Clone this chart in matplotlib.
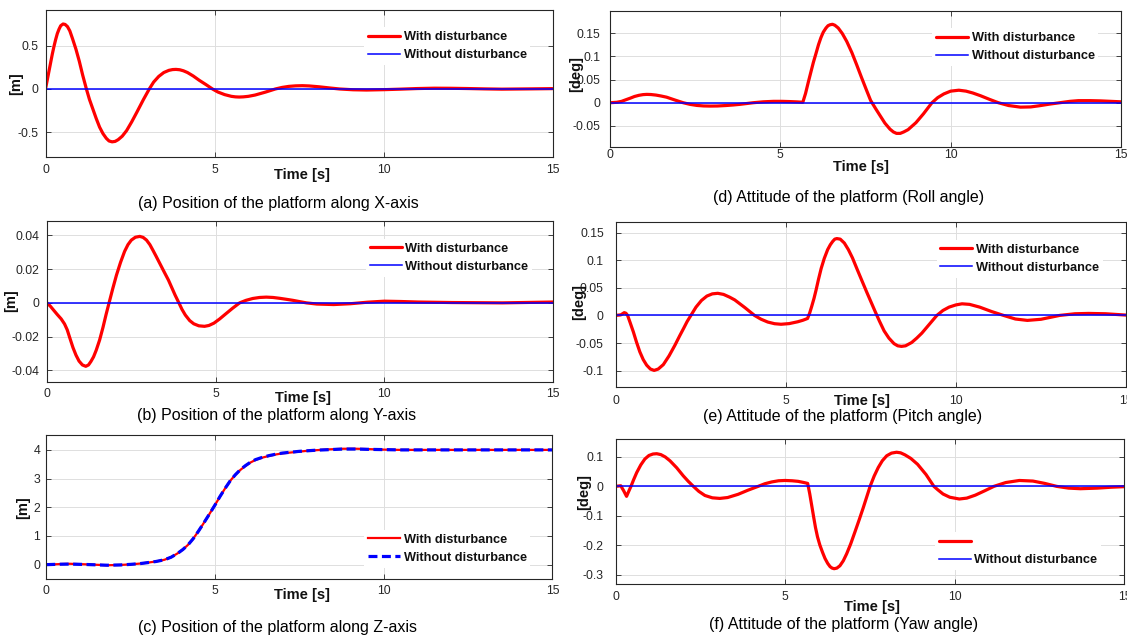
import matplotlib
matplotlib.use('Agg')
import matplotlib.pyplot as plt

plt.rcParams['font.family'] = ['Liberation Sans', 'DejaVu Sans']
plt.rcParams['axes.unicode_minus'] = False

# ---------------- data ----------------
x_ticks = [0, 5, 10, 15]
x_tick_labels = ['0', '5', '10', '15']
t_zero = [0, 15]
zero_line = [0, 0]

# (a) X position [m]
t_a = [0, 0.05, 0.1, 0.15, 0.2, 0.25, 0.3, 0.35, 0.4, 0.45, 0.52, 0.58, 0.65, 0.72, 0.8, 0.9,
       1.0, 1.1, 1.21, 1.3, 1.4, 1.5, 1.6, 1.7, 1.8, 1.88, 1.97, 2.06, 2.15, 2.27, 2.4, 2.55,
       2.7, 2.9, 3.07, 3.2, 3.35, 3.5, 3.65, 3.76, 3.86, 3.97, 4.08, 4.2, 4.37, 4.55, 4.75,
       4.94, 5.1, 5.3, 5.5, 5.62, 5.73, 5.85, 6.0, 6.2, 6.5, 6.8, 7.0, 7.2, 7.4, 7.6, 7.8, 8.1,
       8.4, 8.7, 9.1, 9.5, 10.0, 10.5, 11.0, 11.5, 12.0, 12.5, 13.0, 13.5, 14.3, 15]
a_with = [0, 0.1, 0.2, 0.3, 0.4, 0.49, 0.57, 0.64, 0.69, 0.73, 0.75, 0.745, 0.72, 0.67, 0.58,
          0.46, 0.32, 0.16, 0.0, -0.12, -0.23, -0.34, -0.44, -0.515, -0.57, -0.6, -0.61,
          -0.605, -0.585, -0.545, -0.48, -0.38, -0.27, -0.12, 0.0, 0.08, 0.145, 0.19, 0.215,
          0.224, 0.226, 0.222, 0.21, 0.19, 0.15, 0.1, 0.05, 0.0, -0.035, -0.065, -0.085,
          -0.091, -0.093, -0.091, -0.085, -0.07, -0.037, 0.0, 0.018, 0.03, 0.036, 0.038,
          0.035, 0.025, 0.012, 0.0, -0.009, -0.012, -0.008, -0.002, 0.005, 0.009, 0.008,
          0.005, 0.001, -0.002, 0.001, 0.004]
a_yticks = [-0.5, 0, 0.5]
a_ylabels = ['-0.5', '0', '0.5']

# (b) Y position [m]
t_b = [0, 0.1, 0.2, 0.3, 0.42, 0.52, 0.6, 0.68, 0.77, 0.86, 0.95, 1.05, 1.15, 1.23, 1.3, 1.38,
       1.46, 1.56, 1.66, 1.75, 1.84, 1.95, 2.06, 2.18, 2.3, 2.4, 2.5, 2.62, 2.75, 2.85, 2.95,
       3.05, 3.14, 3.23, 3.32, 3.41, 3.49, 3.6, 3.7, 3.8, 3.91, 4.0, 4.1, 4.23, 4.35, 4.5,
       4.67, 4.8, 4.95, 5.12, 5.3, 5.5, 5.71, 5.9, 6.1, 6.3, 6.5, 6.7, 6.9, 7.1, 7.29, 7.5,
       7.69, 8.0, 8.5, 9.0, 9.5, 10.0, 10.5, 11.0, 12.0, 13.5, 15]
b_with = [0, -0.002, -0.0044, -0.0068, -0.0095, -0.0125, -0.016, -0.021, -0.0265, -0.031,
          -0.0345, -0.0368, -0.0376, -0.0368, -0.0348, -0.032, -0.028, -0.022, -0.0145,
          -0.007, 0.0, 0.0085, 0.0165, 0.024, 0.0305, 0.0345, 0.0372, 0.0389, 0.0394, 0.0388,
          0.0372, 0.0345, 0.0312, 0.0278, 0.0243, 0.0208, 0.0177, 0.0135, 0.009, 0.0045, 0.0,
          -0.0038, -0.0072, -0.0105, -0.0124, -0.0136, -0.0139, -0.0134, -0.012, -0.0095,
          -0.0065, -0.0032, 0.0, 0.0015, 0.0026, 0.0032, 0.0034, 0.0032, 0.0027, 0.0021,
          0.0015, 0.0007, 0.0, -0.0007, -0.001, -0.0005, 0.0004, 0.001, 0.0008, 0.0005,
          0.0002, 0.0, 0.0005]
b_yticks = [-0.04, -0.02, 0, 0.02, 0.04]
b_ylabels = ['-0.04', '-0.02', '0', '0.02', '0.04']

# (c) Z position [m]
t_c = [0, 0.4, 0.7, 1.2, 1.8, 2.2, 2.5, 2.8, 3.0, 3.25, 3.5, 3.7, 3.9, 4.05, 4.2, 4.35, 4.5,
       4.65, 4.8, 4.9, 5.0, 5.15, 5.3, 5.45, 5.6, 5.75, 5.9, 6.05, 6.2, 6.4, 6.6, 6.8, 7.0,
       7.25, 7.5, 7.75, 8.0, 8.4, 8.8, 9.2, 9.5, 10.0, 10.5, 12, 13.5, 15]
c_with = [0.0, 0.02, 0.03, 0.01, -0.02, -0.01, 0.01, 0.04, 0.07, 0.11, 0.17, 0.26, 0.4, 0.53,
          0.69, 0.9, 1.15, 1.42, 1.7, 1.89, 2.08, 2.38, 2.66, 2.92, 3.13, 3.3, 3.44, 3.56,
          3.65, 3.73, 3.79, 3.84, 3.88, 3.91, 3.94, 3.97, 3.99, 4.02, 4.04, 4.04, 4.03, 4.01,
          4.0, 4.0, 4.0, 4.0]
c_without = [0.0, 0.015, 0.02, 0.005, -0.02, -0.01, 0.01, 0.04, 0.07, 0.11, 0.17, 0.26, 0.4,
             0.53, 0.69, 0.9, 1.15, 1.42, 1.7, 1.89, 2.08, 2.38, 2.66, 2.92, 3.13, 3.31,
             3.45, 3.57, 3.66, 3.74, 3.8, 3.85, 3.89, 3.92, 3.95, 3.97, 3.99, 4.01, 4.03,
             4.03, 4.02, 4.01, 4.0, 4.0, 4.0, 4.0]
c_yticks = [0, 1, 2, 3, 4]
c_ylabels = ['0', '1', '2', '3', '4']

# (d) Roll [deg]
t_d = [0, 0.2, 0.34, 0.45, 0.6, 0.72, 0.85, 0.97, 1.08, 1.2, 1.35, 1.5, 1.66, 1.9, 2.15, 2.35,
       2.55, 2.75, 2.94, 3.15, 3.4, 3.62, 3.82, 4.0, 4.2, 4.5, 4.8, 5.05, 5.28, 5.5, 5.66,
       5.74, 5.82, 5.9, 5.97, 6.05, 6.12, 6.19, 6.26, 6.34, 6.4, 6.46, 6.53, 6.6, 6.7, 6.82,
       6.95, 7.1, 7.24, 7.38, 7.53, 7.65, 7.8, 7.93, 8.07, 8.22, 8.32, 8.41, 8.52, 8.62, 8.75,
       8.98, 9.2, 9.45, 9.62, 9.8, 10.0, 10.24, 10.45, 10.65, 10.88, 11.15, 11.4, 11.7, 12.05,
       12.35, 12.6, 12.9, 13.2, 13.5, 13.75, 14.1, 14.4, 14.7, 15]
d_with = [0, 0.001, 0.003, 0.006, 0.01, 0.0135, 0.016, 0.0175, 0.018, 0.0177, 0.0165, 0.0145,
          0.012, 0.006, 0.0, -0.0035, -0.0058, -0.0069, -0.0072, -0.007, -0.006, -0.0048,
          -0.0034, -0.0018, 0.0, 0.002, 0.003, 0.003, 0.0025, 0.0018, 0.001, 0.02, 0.044,
          0.067, 0.087, 0.107, 0.125, 0.14, 0.152, 0.161, 0.166, 0.168, 0.169, 0.167, 0.161,
          0.149, 0.132, 0.108, 0.082, 0.055, 0.027, 0.005, -0.013, -0.028, -0.044, -0.057,
          -0.063, -0.066, -0.066, -0.063, -0.058, -0.043, -0.024, 0.0, 0.011, 0.019, 0.025,
          0.027, 0.025, 0.021, 0.015, 0.007, 0.0, -0.006, -0.0095, -0.009, -0.0065, -0.003,
          0.0, 0.003, 0.0045, 0.0045, 0.004, 0.003, 0.002]
d_yticks = [-0.05, 0, 0.05, 0.1, 0.15]
d_ylabels = ['-0.05', '0', '0.05', '0.1', '0.15']

# (e) Pitch [deg]
t_e = [0, 0.15, 0.25, 0.3, 0.35, 0.43, 0.52, 0.61, 0.71, 0.81, 0.91, 1.02, 1.13, 1.25, 1.4,
       1.57, 1.74, 1.88, 2.0, 2.1, 2.21, 2.36, 2.52, 2.68, 2.84, 3.0, 3.17, 3.35, 3.5, 3.65,
       3.8, 3.94, 4.08, 4.27, 4.47, 4.67, 4.86, 5.1, 5.35, 5.5, 5.64, 5.7, 5.76, 5.83, 5.89,
       5.96, 6.04, 6.13, 6.23, 6.31, 6.38, 6.44, 6.5, 6.6, 6.72, 6.84, 6.96, 7.1, 7.25, 7.38,
       7.5, 7.62, 7.75, 7.89, 8.03, 8.18, 8.29, 8.4, 8.52, 8.7, 8.85, 9.0, 9.22, 9.44, 9.62,
       9.8, 10.0, 10.18, 10.4, 10.7, 11.05, 11.4, 11.75, 12.1, 12.5, 13.05, 13.5, 13.9, 14.4,
       15]
e_with = [0, 0.001, 0.005, 0.004, 0.0, -0.014, -0.03, -0.048, -0.066, -0.08, -0.09, -0.097,
          -0.0995, -0.097, -0.089, -0.073, -0.054, -0.037, -0.023, -0.011, 0.0, 0.015, 0.027,
          0.035, 0.039, 0.04, 0.038, 0.033, 0.028, 0.021, 0.014, 0.007, 0.0, -0.0068, -0.012,
          -0.015, -0.016, -0.0148, -0.0115, -0.0088, -0.0055, 0.004, 0.016, 0.031, 0.046,
          0.065, 0.085, 0.103, 0.119, 0.128, 0.134, 0.138, 0.139, 0.138, 0.131, 0.119, 0.104,
          0.083, 0.061, 0.042, 0.025, 0.008, -0.01, -0.028, -0.041, -0.051, -0.055, -0.056,
          -0.055, -0.049, -0.041, -0.032, -0.016, 0.0, 0.009, 0.015, 0.019, 0.021, 0.02,
          0.015, 0.007, 0.0, -0.0065, -0.009, -0.007, 0.0, 0.003, 0.0036, 0.003, 0.0006]
e_yticks = [-0.1, -0.05, 0, 0.05, 0.1, 0.15]
e_ylabels = ['-0.1', '-0.05', '0', '0.05', '0.1', '0.15']

# (f) Yaw [deg]
t_f = [0, 0.15, 0.24, 0.32, 0.38, 0.45, 0.53, 0.62, 0.74, 0.86, 0.98, 1.1, 1.21, 1.33, 1.46,
       1.6, 1.8, 1.99, 2.14, 2.29, 2.45, 2.63, 2.85, 3.07, 3.3, 3.61, 3.9, 4.2, 4.4, 4.6, 4.8,
       4.99, 5.2, 5.38, 5.55, 5.66, 5.72, 5.78, 5.84, 5.89, 5.95, 6.02, 6.1, 6.17, 6.25, 6.32,
       6.38, 6.44, 6.52, 6.61, 6.71, 6.81, 6.93, 7.05, 7.18, 7.3, 7.4, 7.5, 7.62, 7.74, 7.86,
       7.99, 8.13, 8.28, 8.4, 8.53, 8.7, 8.9, 9.15, 9.38, 9.5, 9.65, 9.85, 10.13, 10.35, 10.6,
       10.88, 11.15, 11.5, 11.9, 12.3, 12.65, 13.0, 13.35, 13.7, 14.2, 14.6, 15]
f_with = [0, 0.002, -0.016, -0.034, -0.018, 0.0, 0.023, 0.047, 0.073, 0.093, 0.105, 0.11,
          0.111, 0.108, 0.1, 0.087, 0.063, 0.036, 0.017, 0.0, -0.017, -0.031, -0.039, -0.041,
          -0.038, -0.027, -0.013, 0.0, 0.009, 0.015, 0.019, 0.02, 0.019, 0.017, 0.013, 0.01,
          -0.025, -0.066, -0.107, -0.14, -0.172, -0.2, -0.225, -0.245, -0.262, -0.273, -0.278,
          -0.28, -0.278, -0.27, -0.253, -0.229, -0.195, -0.156, -0.113, -0.072, -0.036, 0.0,
          0.035, 0.064, 0.087, 0.104, 0.113, 0.116, 0.114, 0.107, 0.095, 0.075, 0.04, 0.0,
          -0.012, -0.026, -0.037, -0.043, -0.04, -0.03, -0.015, 0.0, 0.013, 0.02, 0.018, 0.01,
          0.0, -0.006, -0.008, -0.006, -0.003, -0.001]
f_yticks = [-0.3, -0.2, -0.1, 0, 0.1]
f_ylabels = ['-0.3', '-0.2', '-0.1', '0', '0.1']

label_with = 'With disturbance'
label_without = 'Without disturbance'
captions = ['(a) Position of the platform along X-axis',
            '(b) Position of the platform along Y-axis',
            '(c) Position of the platform along Z-axis',
            '(d) Attitude of the platform (Roll angle)',
            '(e) Attitude of the platform (Pitch angle)',
            '(f) Attitude of the platform (Yaw angle)']

# ---------------- figure ----------------
W, H = 1127, 643
fig = plt.figure(figsize=(W / 100, H / 100), dpi=100)

RED = '#ff0000'
BLUE = '#0000ff'
AX_COL = '#262626'
FS_TICK = 8.8
FS_LEG = 9.2
FS_LAB = 10.5
FS_CAP = 11.5


def fx(px):
    return px / W


def fy(py):
    return 1 - py / H


def panel(box, ylim, yticks, ylabels, t, y_with, t2, y_without, dashed,
          caption, cap_xy, time_xy, ylab, ylab_xy, leg_xy, xpad, ypad, leg_labels):
    x0, y0, x1, y1 = box
    ax = fig.add_axes([fx(x0), fy(y1), (x1 - x0) / W, (y1 - y0) / H])
    if dashed:
        l1, = ax.plot(t, y_with, color=RED, lw=1.6, solid_joinstyle='round')
        l2, = ax.plot(t2, y_without, color=BLUE, lw=2.3, linestyle=(0, (2.8, 1.4)))
    else:
        l1, = ax.plot(t, y_with, color=RED, lw=2.3, solid_joinstyle='round',
                      solid_capstyle='round')
        l2, = ax.plot(t2, y_without, color=BLUE, lw=1.1)
    ax.set_xlim(0, 15)
    ax.set_ylim(*ylim)
    ax.set_xticks(x_ticks)
    ax.set_xticklabels(x_tick_labels)
    ax.set_yticks(yticks)
    ax.set_yticklabels(ylabels)
    ax.grid(True, color='#dedede', lw=0.7)
    ax.set_axisbelow(True)
    ax.tick_params(direction='in', top=True, right=True, length=3.5, width=0.6,
                   colors=AX_COL, labelsize=FS_TICK)
    ax.tick_params(axis='x', pad=xpad)
    ax.tick_params(axis='y', pad=ypad)
    for s in ax.spines.values():
        s.set_color(AX_COL)
        s.set_linewidth(0.8)
    # legend
    fs_px = FS_LEG * 100 / 72
    bp = 0.3
    hx, hy = leg_xy
    anchor = (fx(hx - bp * fs_px), fy(hy - 0.36 * fs_px - bp * fs_px))
    leg = ax.legend([l1, l2], leg_labels, loc='upper left', bbox_to_anchor=anchor,
                    bbox_transform=fig.transFigure, prop=dict(weight='bold', size=FS_LEG),
                    handlelength=2.5, handletextpad=0.28, labelspacing=0.49, borderpad=bp,
                    borderaxespad=0, frameon=True, fancybox=False, framealpha=1,
                    edgecolor='none', facecolor='white')
    for txt in leg.get_texts():
        txt.set_color('#111111')
    fig.text(fx(time_xy[0]), fy(time_xy[1]), 'Time [s]', ha='center', va='center',
             fontsize=FS_LAB, fontweight='bold', color='#111111')
    fig.text(fx(ylab_xy[0]), fy(ylab_xy[1]), ylab, ha='center', va='center', rotation=90,
             fontsize=FS_LAB, fontweight='bold', color='#111111')
    fig.text(fx(cap_xy[0]), fy(cap_xy[1]), caption, ha='center', va='center',
             fontsize=FS_CAP, color='black')
    return ax


panel((45.5, 9.7, 552.5, 157), (-0.785, 0.915), a_yticks, a_ylabels, t_a, a_with,
      t_zero, zero_line, False, captions[0], (278, 203), (302, 175), '[m]', (16.5, 84),
      (368, 35.7), 5.0, 5.0, [label_with, label_without])
panel((47, 220.7, 553, 382), (-0.0469, 0.0487), b_yticks, b_ylabels, t_b, b_with,
      t_zero, zero_line, False, captions[1], (277, 415.7), (303, 397.7), '[m]', (10.7, 301),
      (369.6, 247.3), 4.6, 5.5, [label_with, label_without])
panel((46.3, 434.7, 552.4, 579), (-0.5, 4.53), c_yticks, c_ylabels, t_c, c_with,
      t_c, c_without, True, captions[2], (277.7, 627.3), (302, 595), '[m]', (23, 507.5),
      (368, 538.3), 4.3, 4.3, [label_with, label_without])
panel((610, 11.3, 1121, 147.3), (-0.096, 0.197), d_yticks, d_ylabels, t_d, d_with,
      t_zero, zero_line, False, captions[3], (849, 197.7), (861.4, 166.7), '[deg]', (576, 74),
      (936, 36.7), 1.5, 6.8, [label_with, label_without])
panel((615.7, 222, 1126, 387), (-0.1295, 0.169), e_yticks, e_ylabels, t_e, e_with,
      t_zero, zero_line, False, captions[4], (842.6, 416.7), (862, 401), '[deg]', (579, 301.7),
      (940.5, 248.3), 5.8, 8.6, [label_with, label_without])
panel((615.7, 439.3, 1124.5, 583.7), (-0.331, 0.160), f_yticks, f_ylabels, t_f, f_with,
      t_zero, zero_line, False, captions[5], (844, 625), (872, 606.7), '[deg]', (584.5, 492.5),
      (938.7, 540.7), 5.5, 8.6, ['', label_without])

fig.savefig('out.png', dpi=100)
